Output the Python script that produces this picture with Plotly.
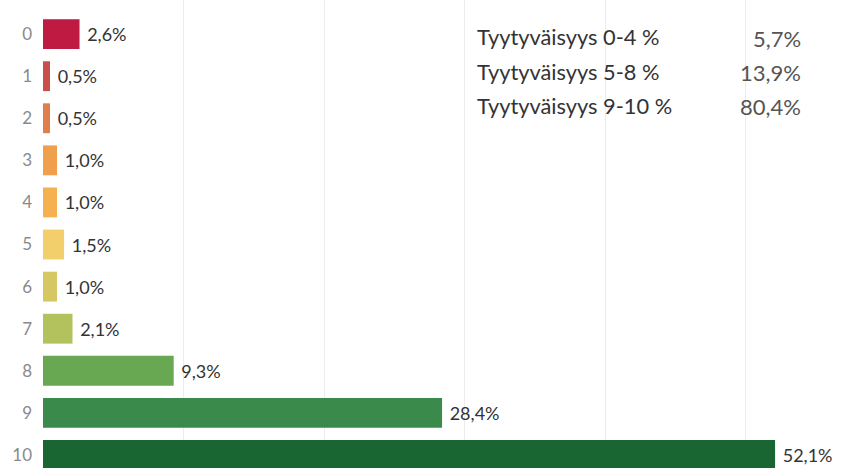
import plotly.graph_objects as go

scores = list(range(11))
score_labels = [str(s) for s in scores]
shares = [2.6, 0.5, 0.5, 1.0, 1.0, 1.5, 1.0, 2.1, 9.3, 28.4, 52.1]
share_labels = ["2,6%", "0,5%", "0,5%", "1,0%", "1,0%", "1,5%", "1,0%", "2,1%", "9,3%", "28,4%", "52,1%"]
colors = ["#bf1a42", "#c9504a", "#e07e4c", "#f0a04c", "#f5b04f", "#f3cf6c",
          "#d6c765", "#b3c25c", "#68a853", "#3a8a4c", "#1a6633"]

group_names = ["Tyytyväisyys 0-4 %", "Tyytyväisyys 5-8 %", "Tyytyväisyys 9-10 %"]
group_values = ["5,7%", "13,9%", "80,4%"]

FONT = "Lato"

fig = go.Figure()
fig.add_trace(go.Bar(
    x=shares, y=scores, orientation="h",
    marker=dict(color=colors, line=dict(width=0)),
    text=[" " + t for t in share_labels], textposition="outside", cliponaxis=False,
    textfont=dict(family=FONT, size=18, color="#333333"),
    width=0.71, hoverinfo="skip",
))

for i, (n, v) in enumerate(zip(group_names, group_values)):
    fig.add_annotation(xref="paper", yref="paper", x=(475 - 43) / 822,
                       y=1 - (37 + i * 34.5) / 468, text=n, showarrow=False,
                       xanchor="left", yanchor="middle",
                       font=dict(family=FONT, size=21.8, color="#333333"))
    fig.add_annotation(xref="paper", yref="paper", x=(803 - 43) / 822,
                       y=1 - (38 + i * 34.5) / 468, text=v, showarrow=False,
                       xanchor="right", yanchor="middle",
                       font=dict(family=FONT, size=22, color="#555555"))

fig.update_layout(
    width=865, height=468,
    margin=dict(l=43, r=0, t=0, b=0),
    plot_bgcolor="white", paper_bgcolor="white",
    showlegend=False,
    xaxis=dict(range=[0, 58.5], showticklabels=False, showgrid=True,
               gridcolor="#ececec", gridwidth=1, dtick=10, zeroline=False,
               showline=False),
    yaxis=dict(range=[10.31, -0.81], tickmode="array", tickvals=scores,
               ticktext=score_labels, showgrid=False, zeroline=False,
               ticks="", ticklabelstandoff=10,
               tickfont=dict(family=FONT, size=17, color="#8a8a8a")),
)

fig.write_html("out.html")
